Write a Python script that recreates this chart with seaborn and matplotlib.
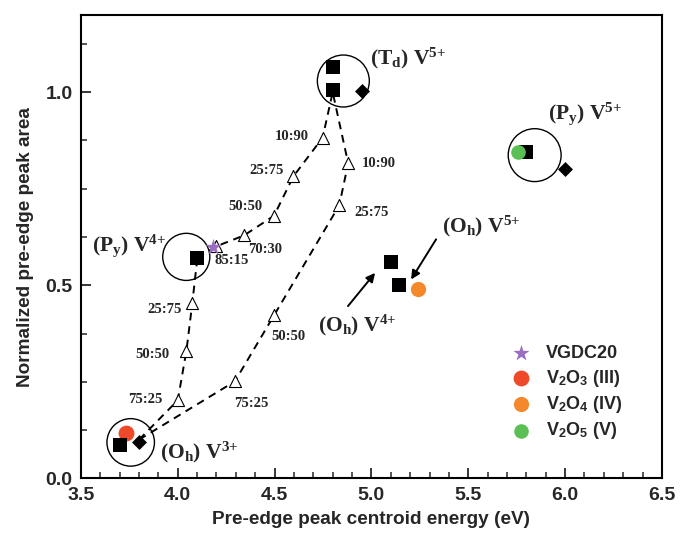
import matplotlib
matplotlib.use("Agg")
import matplotlib.pyplot as plt
import numpy as np
import pandas as pd
import seaborn as sns

# ---------------- data ----------------
# reference compounds (black markers)
square_x = [4.80, 4.80, 5.80, 5.10, 5.145, 4.10, 3.70]
square_y = [1.065, 1.005, 0.845, 0.560, 0.500, 0.570, 0.087]
diamond_x = [4.95, 6.00, 3.80]
diamond_y = [1.002, 0.802, 0.094]

# coloured samples
sample_names = ["VGDC20", "V$_\\mathsf{2}$O$_\\mathsf{3}$ (III)",
                "V$_\\mathsf{2}$O$_\\mathsf{4}$ (IV)", "V$_\\mathsf{2}$O$_\\mathsf{5}$ (V)"]
sample_x = [4.18, 3.735, 5.24, 5.755]
sample_y = [0.600, 0.117, 0.490, 0.845]

# mixing paths (dashed lines with open triangles)
pathA_x = [3.80, 4.00, 4.045, 4.075, 4.10]
pathA_y = [0.100, 0.202, 0.331, 0.453, 0.565]
pathA_lab = ["75:25", "50:50", "25:75"]
pathB_x = [3.80, 4.295, 4.497, 4.834, 4.880, 4.80]
pathB_y = [0.100, 0.251, 0.422, 0.707, 0.816, 1.000]
pathB_lab = ["75:25", "50:50", "25:75", "10:90"]
pathC_x = [4.10, 4.20, 4.342, 4.497, 4.597, 4.748, 4.80]
pathC_y = [0.570, 0.601, 0.629, 0.680, 0.782, 0.882, 1.000]
pathC_lab = ["85:15", "70:30", "50:50", "25:75", "10:90"]

# ratio label positions (centres)
ratio_text = pathA_lab + pathB_lab + pathC_lab
ratio_tx = [3.831, 3.870, 3.934, 4.382, 4.571, 5.000, 5.039, 4.278, 4.450, 4.351, 4.459, 4.588]
ratio_ty = [0.205, 0.320, 0.437, 0.193, 0.366, 0.688, 0.816, 0.565, 0.593, 0.703, 0.798, 0.886]

# coordination-site groups (circles)
group_x = [4.855, 5.843, 4.044, 3.757]
group_y = [1.029, 0.837, 0.5735, 0.093]
group_size = [1400, 1450, 1150, 1170]
site_text = ["(T$_\\mathrm{d}$) V$^{\\mathrm{5{+}}}$", "(P$_\\mathrm{y}$) V$^{\\mathrm{5{+}}}$",
             "(O$_\\mathrm{h}$) V$^{\\mathrm{5{+}}}$", "(O$_\\mathrm{h}$) V$^{\\mathrm{4{+}}}$",
             "(P$_\\mathrm{y}$) V$^{\\mathrm{4{+}}}$", "(O$_\\mathrm{h}$) V$^{\\mathrm{3{+}}}$"]
site_tx = [4.993, 5.912, 5.363, 4.724, 3.555, 3.908]
site_ty = [1.073, 0.931, 0.636, 0.381, 0.589, 0.052]

# arrows (tail -> head)
arrow_tail = [(4.879, 0.446), (5.334, 0.619)]
arrow_head = [(5.019, 0.532), (5.205, 0.515)]

x_ticks = [3.5, 4.0, 4.5, 5.0, 5.5, 6.0, 6.5]
y_ticks = [0.0, 0.5, 1.0]

# ---------------- style ----------------
sns.set_theme(style="ticks")
plt.rcParams["font.family"] = ["Liberation Sans", "DejaVu Sans"]
plt.rcParams["mathtext.fontset"] = "custom"
plt.rcParams["mathtext.rm"] = "Liberation Serif:bold"
plt.rcParams["mathtext.bf"] = "Liberation Serif:bold"
plt.rcParams["mathtext.it"] = "Liberation Serif:bold"
plt.rcParams["mathtext.sf"] = "Liberation Sans:bold"
plt.rcParams["mathtext.default"] = "rm"

colors = ["#9B6DC0", "#EE4A2A", "#F5882B", "#5CBF55"]
markers = ["*", "o", "o", "o"]
msizes = [150, 130, 120, 110]

fig = plt.figure(figsize=(6.8, 5.41), dpi=100)
ax = fig.add_axes([0.119, 0.1159, 0.8544, 0.8564])

# group circles
gdf = pd.DataFrame({"x": group_x, "y": group_y, "s": group_size})
for _, r in gdf.iterrows():
    sns.scatterplot(x=[r.x], y=[r.y], s=r.s, marker="o", facecolor="none",
                    edgecolor="black", linewidth=1.0, ax=ax, zorder=1, legend=False)

# dashed paths
for px, py in [(pathA_x, pathA_y), (pathB_x, pathB_y), (pathC_x, pathC_y)]:
    d = pd.DataFrame({"x": px, "y": py})
    sns.lineplot(data=d, x="x", y="y", sort=False, estimator=None, color="black",
                 linewidth=1.4, dashes=False, linestyle=(0, (4.0, 3.0)), ax=ax, zorder=2,
                 legend=False)

# triangles
tri_x = pathA_x[1:-1] + pathB_x[1:-1] + pathC_x[1:-1]
tri_y = pathA_y[1:-1] + pathB_y[1:-1] + pathC_y[1:-1]
sns.scatterplot(x=tri_x, y=tri_y, marker="^", s=75, facecolor="white",
                edgecolor="black", linewidth=0.8, ax=ax, zorder=3, legend=False)

# red V2O3 below squares
sc_handles = [None] * 4
h = ax.scatter([sample_x[1]], [sample_y[1]], s=msizes[1], marker="o",
               color=colors[1], linewidth=0, zorder=4, label=sample_names[1])
sc_handles[1] = h

sns.scatterplot(x=square_x, y=square_y, marker="s", s=92, color="black",
                linewidth=0, ax=ax, zorder=5, legend=False)
sns.scatterplot(x=diamond_x, y=diamond_y, marker="D", s=58, color="black",
                linewidth=0, ax=ax, zorder=5, legend=False)

for i in [0, 2, 3]:
    h = ax.scatter([sample_x[i]], [sample_y[i]], s=msizes[i], marker=markers[i],
                   color=colors[i], linewidth=0, zorder=6, label=sample_names[i])
    sc_handles[i] = h

# ratio labels
for t, tx, ty in zip(ratio_text, ratio_tx, ratio_ty):
    ax.text(tx, ty, t, ha="center", va="center", fontsize=10.5,
            family="Liberation Serif", fontweight="bold", zorder=7)

# site labels
for t, tx, ty in zip(site_text, site_tx, site_ty):
    ax.text(tx, ty, t, ha="left", va="baseline", fontsize=15.5,
            family="Liberation Serif", fontweight="bold", zorder=7)

for tail, head in zip(arrow_tail, arrow_head):
    ax.annotate("", xy=head, xytext=tail,
                arrowprops=dict(arrowstyle="-|>", color="black", lw=1.4,
                                mutation_scale=13, shrinkA=0, shrinkB=0), zorder=7)

leg = ax.legend(handles=sc_handles, labels=sample_names, loc="upper left",
                bbox_to_anchor=(0.726, 0.303), frameon=False, fontsize=13,
                handletextpad=0.8, labelspacing=0.3, borderaxespad=0,
                handlelength=1.2)
for t in leg.get_texts():
    t.set_fontweight("bold")

# axes
ax.set_xlim(3.5, 6.5)
ax.set_ylim(0.0, 1.2)
ax.set_xticks(x_ticks)
ax.set_yticks(y_ticks)
ax.set_xticks(np.arange(3.5, 6.5001, 0.1), minor=True)
ax.set_yticks(np.arange(0.0, 1.2001, 0.125), minor=True)
ax.set_xticklabels([f"{v:.1f}" for v in x_ticks])
ax.set_yticklabels([f"{v:.1f}" for v in y_ticks])
ax.tick_params(which="major", direction="in", length=7, width=1.3, labelsize=14,
               top=False, right=False, pad=6)
ax.tick_params(which="minor", direction="in", length=4, width=1.1, top=False, right=False)
for lab in ax.get_xticklabels() + ax.get_yticklabels():
    lab.set_fontweight("bold")
for sp in ax.spines.values():
    sp.set_linewidth(1.5)
    sp.set_color("black")

ax.set_xlabel("Pre-edge peak centroid energy (eV)", fontsize=13.7, fontweight="bold",
              labelpad=5)
ax.set_ylabel("Normalized pre-edge peak area", fontsize=13.7, fontweight="bold",
              labelpad=8)

fig.savefig("out.png", dpi=100)
